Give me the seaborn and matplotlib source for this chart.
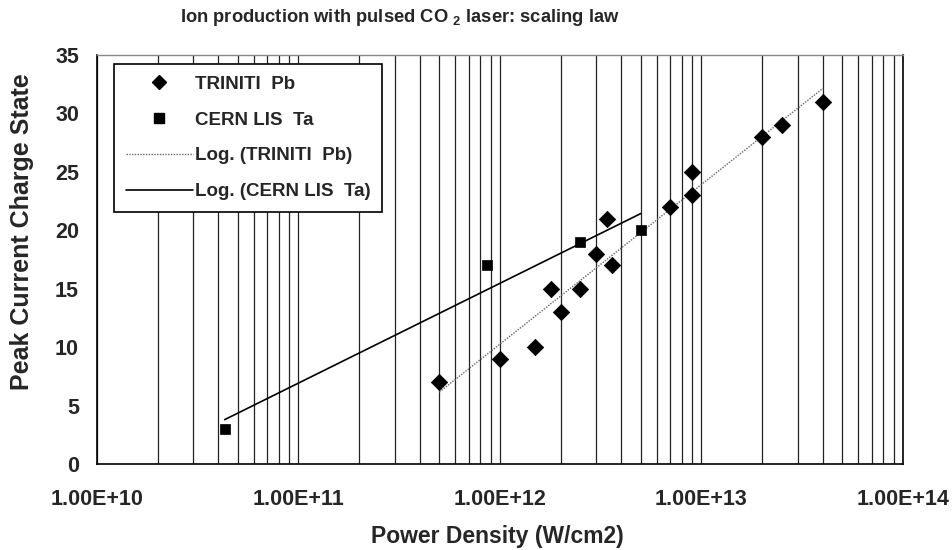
import numpy as np
import pandas as pd
import matplotlib
matplotlib.use("Agg")
import matplotlib.pyplot as plt
import matplotlib.ticker as mticker
from matplotlib.lines import Line2D
import seaborn as sns

# ---- data ----
triniti_power = [5e11, 1e12, 1.5e12, 1.8e12, 2e12, 2.5e12, 3e12, 3.4e12, 3.6e12,
                 7e12, 9e12, 9e12, 2e13, 2.5e13, 4e13]
triniti_charge = [7, 9, 10, 15, 13, 15, 18, 21, 17, 22, 25, 23, 28, 29, 31]
cern_power = [4.3e10, 8.6e11, 2.5e12, 5e12]
cern_charge = [3, 17, 19, 20]
x_ticks = [1e10, 1e11, 1e12, 1e13, 1e14]
x_tick_labels = ["1.00E+10", "1.00E+11", "1.00E+12", "1.00E+13", "1.00E+14"]
y_ticks = [0, 5, 10, 15, 20, 25, 30, 35]

tri = pd.DataFrame({"power": triniti_power, "charge": triniti_charge})
cern = pd.DataFrame({"power": cern_power, "charge": cern_charge})

sns.set_theme(style="white")
plt.rcParams["font.family"] = ["Liberation Sans", "DejaVu Sans"]
plt.rcParams["font.weight"] = "bold"
plt.rcParams["mathtext.fontset"] = "custom"
plt.rcParams["mathtext.rm"] = "Liberation Sans:bold"
plt.rcParams["mathtext.it"] = "Liberation Sans:bold"
plt.rcParams["mathtext.bf"] = "Liberation Sans:bold"

fig = plt.figure(figsize=(9.53, 5.5), dpi=100)
ax = fig.add_axes([97 / 953, 1 - 464 / 550, (903 - 97) / 953, (464 - 55) / 550])
ax.set_xscale("log")

# vertical grid at every major/minor decade tick
ax.xaxis.set_major_locator(mticker.FixedLocator(x_ticks))
ax.xaxis.set_minor_locator(mticker.LogLocator(base=10, subs=np.arange(2, 10)))
ax.grid(True, axis="x", which="both", color="#222222", linewidth=0.9)
ax.grid(False, axis="y")
ax.set_axisbelow(True)

# trend lines (logarithmic fit)
sns.regplot(data=tri, x="power", y="charge", logx=True, ci=None, scatter=False,
            truncate=True, ax=ax,
            line_kws=dict(color="#666666", linestyle=(0, (1, 1)), linewidth=1.0))
sns.regplot(data=cern, x="power", y="charge", logx=True, ci=None, scatter=False,
            truncate=True, ax=ax,
            line_kws=dict(color="black", linestyle="-", linewidth=1.2))

sns.scatterplot(data=tri, x="power", y="charge", marker="D", s=70, color="black",
                edgecolor="black", linewidth=0.5, ax=ax, zorder=5)
sns.scatterplot(data=cern, x="power", y="charge", marker="s", s=60, color="black",
                edgecolor="black", linewidth=0.5, ax=ax, zorder=5)

ax.set_xlim(1e10, 1e14)
ax.set_ylim(0, 35)
ax.set_yticks(y_ticks)
ax.set_xticklabels(x_tick_labels)
ax.tick_params(axis="both", which="major", labelsize=15.5, direction="inout",
               length=12, width=1, color="black")
ax.tick_params(axis="x", which="major", pad=12)
ax.tick_params(axis="y", which="major", pad=7)
ax.tick_params(axis="x", which="minor", length=0)
for lab in ax.get_xticklabels() + ax.get_yticklabels():
    lab.set_fontweight("bold")

for side in ["left", "bottom", "right"]:
    ax.spines[side].set_color("black")
    ax.spines[side].set_linewidth(1.2)
ax.spines["top"].set_color("#888888")
ax.spines["top"].set_linewidth(1.0)

ax.set_xlabel("Power Density (W/cm2)", fontsize=16.5, fontweight="bold")
ax.xaxis.set_label_coords(0.497, (464 - 525) / 409)
ax.set_ylabel("Peak Current Charge State", fontsize=18, fontweight="bold")
ax.yaxis.set_label_coords((34 - 97) / 806, (464 - 232) / 409)
fig.text(400 / 953, 1 - 18 / 550,
         r"Ion production with pulsed CO $_{2}$ laser: scaling law",
         ha="center", va="center", fontsize=13.2, fontweight="bold")

# legend
handles = [
    Line2D([], [], marker="D", color="black", linestyle="none", markersize=7.5),
    Line2D([], [], marker="s", color="black", linestyle="none", markersize=7.5),
    Line2D([], [], color="#666666", linestyle=(0, (1, 1)), linewidth=1.0),
    Line2D([], [], color="black", linestyle="-", linewidth=1.2),
]
labels = ["TRINITI  Pb", "CERN LIS  Ta", "Log. (TRINITI  Pb)", "Log. (CERN LIS  Ta)"]
leg = ax.legend(handles, labels, loc="upper left",
                bbox_to_anchor=((114 - 97) / 806, (464 - 64) / 409),
                borderaxespad=0, frameon=True, fancybox=False, shadow=False,
                handlelength=3.6, handletextpad=0.1, labelspacing=1.0,
                borderpad=0.62, prop=dict(size=13.5, weight="bold"))
leg.get_frame().set_edgecolor("black")
leg.get_frame().set_linewidth(1.2)
leg.get_frame().set_facecolor("white")
leg.get_frame().set_alpha(1)

fig.savefig("out.png", dpi=100)
